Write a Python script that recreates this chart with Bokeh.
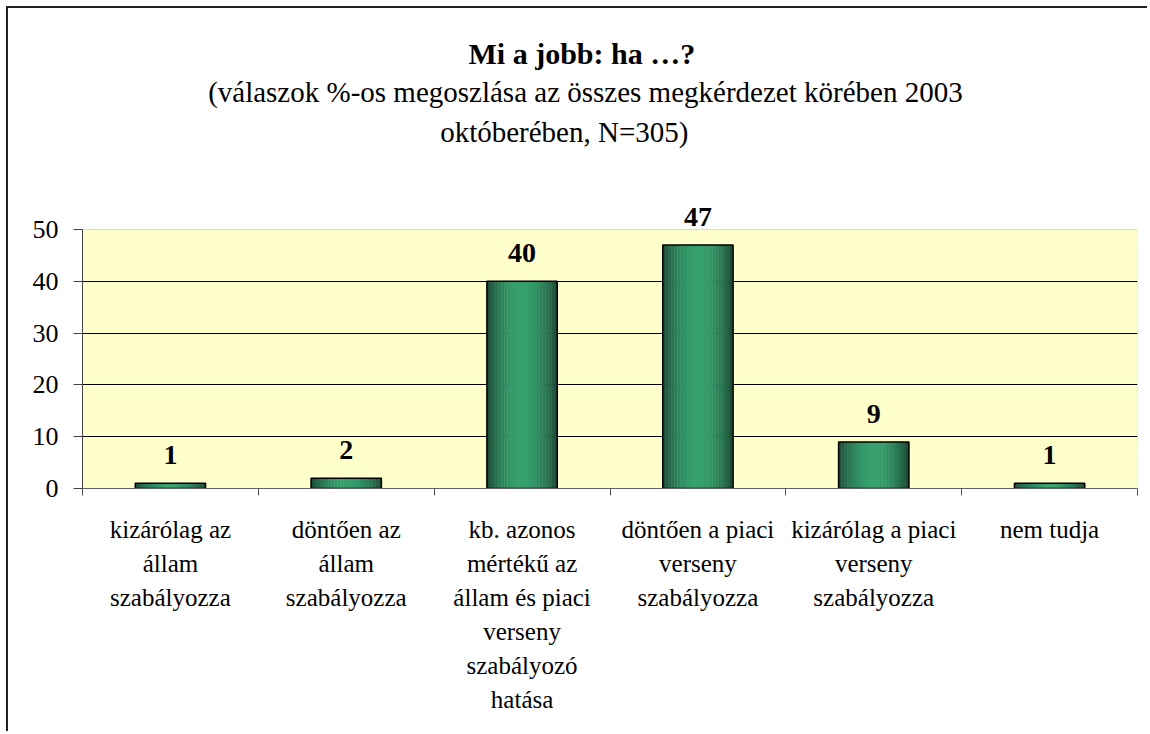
from bokeh.plotting import figure
from bokeh.models import Range1d, FixedTicker, Label, BoxAnnotation
from bokeh.core.properties import value
from bokeh.embed import file_html
from bokeh.resources import INLINE
import math

# ---- data ----
categories = [
    "kizárólag az\nállam\nszabályozza",
    "döntően az\nállam\nszabályozza",
    "kb. azonos\nmértékű az\nállam és piaci\nverseny\nszabályozó\nhatása",
    "döntően a piaci\nverseny\nszabályozza",
    "kizárólag a piaci\nverseny\nszabályozza",
    "nem tudja",
]
values = [1, 2, 40, 47, 9, 1]
y_ticks = [0, 10, 20, 30, 40, 50]
grid_ticks = [10, 20, 30, 40]
y_max = 50
title_text = "Mi a jobb: ha …?"
subtitle_lines = [
    "(válaszok %-os megoszlása az összes megkérdezet körében 2003",
    "októberében, N=305)",
]

FONT = "Liberation Serif"
BAR_W = 0.4
N_STRIPS = 24
EDGE = (0x1B, 0x44, 0x31)
CENTER = (0x36, 0xA0, 0x6E)

# layout (pixels)
W, H = 1141, 725
PLOT_H_PX = 259        # height of the 0..50 plot area
FRAME_H_PX = 480       # frame reaches up to the figure top so titles fit inside


def mix(t):
    f = math.sin(math.pi * t) ** 0.8
    c = [round(e + (m - e) * f) for e, m in zip(EDGE, CENTER)]
    return "#%02x%02x%02x" % tuple(c)


centers = [i + 0.5 for i in range(len(categories))]
y_top = y_max * FRAME_H_PX / PLOT_H_PX

p = figure(
    width=W, height=H,
    x_range=Range1d(0, len(categories)), y_range=Range1d(0, y_top),
    output_backend="svg", toolbar_location=None,
    min_border_left=74, min_border_right=W - 1129,
    min_border_top=0, min_border_bottom=H - FRAME_H_PX,
)
p.styles = {"margin-left": "8px", "margin-top": "8px",
            "box-shadow": "-2px -2px 0 0 #222222"}
p.background_fill_color = "white"
p.border_fill_color = "white"
p.outline_line_color = None

# plot area (0..50) background and border
p.add_layout(BoxAnnotation(left=0, right=len(categories), bottom=0, top=y_max,
                           fill_color="#FFFFCC", fill_alpha=1,
                           line_color="#8a8a8a", line_width=1, level="image"))

# grid
p.xgrid.visible = False
p.ygrid.ticker = FixedTicker(ticks=grid_ticks)
p.ygrid.grid_line_color = "black"
p.ygrid.grid_line_width = 1

# y axis
p.yaxis.ticker = FixedTicker(ticks=y_ticks)
p.yaxis.bounds = (0, y_max)
p.yaxis.major_tick_out = 9
p.yaxis.major_tick_in = 0
p.yaxis.minor_tick_line_color = None
p.yaxis.axis_line_color = "#404040"
p.yaxis.major_tick_line_color = "#404040"
p.yaxis.major_label_text_font = FONT
p.yaxis.major_label_text_font_size = "26px"
p.yaxis.major_label_text_color = "black"
p.yaxis.major_label_standoff = 15

# x axis: labels at centres, ticks at category boundaries
p.xaxis.ticker = FixedTicker(ticks=centers, minor_ticks=list(range(len(categories) + 1)))
p.xaxis.major_label_overrides = {c: cat for c, cat in zip(centers, categories)}
p.xaxis.major_tick_out = 0
p.xaxis.major_tick_in = 0
p.xaxis.minor_tick_out = 7
p.xaxis.minor_tick_in = 0
p.xaxis.minor_tick_line_color = "#505050"
p.xaxis.axis_line_color = "#606060"
p.xaxis.major_label_text_font = FONT
p.xaxis.major_label_text_font_size = "25px"
p.xaxis.major_label_text_color = "black"
p.xaxis.major_label_text_line_height = 1.265
p.xaxis.major_label_standoff = 20

# bars with horizontal gradient (strips)
xs, tops, cols = [], [], []
for c, v in zip(centers, values):
    for k in range(N_STRIPS):
        t = (k + 0.5) / N_STRIPS
        xs.append(c - BAR_W / 2 + t * BAR_W)
        tops.append(v)
        cols.append(mix(t))
p.vbar(x=xs, top=tops, bottom=0, width=BAR_W / N_STRIPS * 1.15,
       fill_color=cols, line_color=None)
p.vbar(x=centers, top=values, bottom=0, width=BAR_W,
       fill_color=None, line_color="black", line_width=1.5)

# value labels
p.text(x=centers, y=values, text=[str(v) for v in values],
       text_align="center", text_baseline="alphabetic", y_offset=-28,
       text_font=value(FONT), text_font_style="bold", text_font_size="28px",
       text_color="black")

# titles
p.add_layout(Label(x=2.84, y=83.9, text=title_text, text_align="center",
                   text_baseline="alphabetic", text_font=FONT,
                   text_font_style="bold", text_font_size="30px", text_color="black"))
for xx, yy, line in zip([2.86, 2.74], [76.6, 68.9], subtitle_lines):
    p.add_layout(Label(x=xx, y=yy, text=line, text_align="center",
                       text_baseline="alphabetic", text_font=FONT,
                       text_font_size="29px", text_color="black"))

open("out.html", "w").write(file_html(p, INLINE))
